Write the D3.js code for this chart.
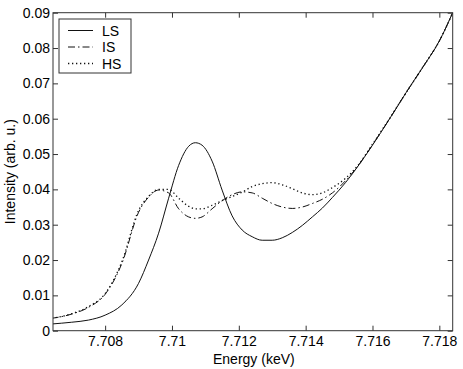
<!DOCTYPE html>
<html>
<head>
<meta charset="utf-8">
<script src="https://cdn.jsdelivr.net/npm/d3@7"></script>
<style>
  body { margin: 0; background: #fff; }
  text { font-family: "Liberation Sans", Arial, sans-serif; fill: #000; }
</style>
</head>
<body>
<div id="chart"></div>
<script>
// energy grid (keV)
const energy = [7.7064, 7.7070, 7.7075, 7.7080, 7.7085, 7.7090, 7.7093, 7.7096, 7.7099,
  7.7102, 7.7105, 7.7107, 7.7109, 7.7112, 7.7115, 7.7118, 7.7121, 7.7124, 7.7127,
  7.7130, 7.7133, 7.7136, 7.7139, 7.7142, 7.7145, 7.7148, 7.7152, 7.7156, 7.7160,
  7.7165, 7.7170, 7.7175, 7.7180, 7.7184];

const lsValues = [0.0019, 0.0024, 0.0030, 0.0044, 0.0073, 0.0134, 0.0200, 0.0276, 0.0375,
  0.0468, 0.0522, 0.0532, 0.0525, 0.0480, 0.0398, 0.0325, 0.0285, 0.0266, 0.0256,
  0.0256, 0.0263, 0.0278, 0.0298, 0.0322, 0.0347, 0.0377, 0.0420, 0.0470, 0.0525,
  0.0598, 0.0673, 0.0745, 0.0820, 0.0900];

const isValues = [0.0035, 0.0047, 0.0066, 0.0103, 0.0190, 0.0335, 0.0378, 0.0398, 0.0390,
  0.0345, 0.0322, 0.0318, 0.0322, 0.0345, 0.0368, 0.0385, 0.0393, 0.0390, 0.0375,
  0.0360, 0.0350, 0.0346, 0.0350, 0.0360, 0.0372, 0.0390, 0.0425, 0.0471, 0.0526,
  0.0598, 0.0673, 0.0745, 0.0820, 0.0900];

const hsValues = [0.0035, 0.0048, 0.0068, 0.0105, 0.0195, 0.0340, 0.0380, 0.0400, 0.0400,
  0.0375, 0.0352, 0.0345, 0.0345, 0.0355, 0.0368, 0.0380, 0.0392, 0.0408, 0.0416,
  0.0419, 0.0413, 0.0402, 0.0390, 0.0385, 0.0390, 0.0405, 0.0432, 0.0472, 0.0528,
  0.0599, 0.0673, 0.0745, 0.0820, 0.0900];

const seriesNames = ["LS", "IS", "HS"];
const xTicks = [7.708, 7.71, 7.712, 7.714, 7.716, 7.718];
const yTicks = [0, 0.01, 0.02, 0.03, 0.04, 0.05, 0.06, 0.07, 0.08, 0.09];

const width = 463, height = 369;
const margin = { top: 12.7, right: 10.3, bottom: 38.3, left: 53 };
const innerW = width - margin.left - margin.right;
const innerH = height - margin.top - margin.bottom;

const svg = d3.select("#chart").append("svg")
  .attr("width", width).attr("height", height);

const g = svg.append("g")
  .attr("transform", "translate(" + margin.left + "," + margin.top + ")");

const x = d3.scaleLinear().domain([7.70644, 7.7184]).range([0, innerW]);
const y = d3.scaleLinear().domain([0, 0.09]).range([innerH, 0]);

const axisColor = "#333";
const tickLen = 5;

g.append("clipPath").attr("id", "clip")
  .append("rect").attr("width", innerW).attr("height", innerH);

// series
const styles = {
  LS: { dash: null, width: 1 },
  IS: { dash: "7,3,1.5,3", width: 1 },
  HS: { dash: "1.3,2.7", width: 1.3 }
};
const values = { LS: lsValues, IS: isValues, HS: hsValues };

const line = d3.line()
  .x((d) => x(d[0]))
  .y((d) => y(d[1]))
  .curve(d3.curveMonotoneX);

seriesNames.forEach((name) => {
  const pts = energy.map((e, i) => [e, values[name][i]]);
  g.append("path")
    .attr("clip-path", "url(#clip)")
    .attr("d", line(pts))
    .attr("fill", "none")
    .attr("stroke", "#111")
    .attr("stroke-width", styles[name].width)
    .attr("stroke-dasharray", styles[name].dash);
});

// axes, ticks inside like matlab
const xAxis = g.append("g").attr("transform", "translate(0," + innerH + ")")
  .call(d3.axisBottom(x).tickValues(xTicks).tickSizeInner(-tickLen).tickSizeOuter(0)
    .tickPadding(5).tickFormat((d) => String(+d.toFixed(3))));
const yAxis = g.append("g")
  .call(d3.axisLeft(y).tickValues(yTicks).tickSizeInner(-tickLen).tickSizeOuter(0)
    .tickPadding(3).tickFormat((d) => String(+d.toFixed(2))));
const xTop = g.append("g")
  .call(d3.axisTop(x).tickValues(xTicks).tickSizeInner(-tickLen).tickSizeOuter(0).tickFormat(""));
const yRight = g.append("g").attr("transform", "translate(" + innerW + ",0)")
  .call(d3.axisRight(y).tickValues(yTicks).tickSizeInner(-tickLen).tickSizeOuter(0).tickFormat(""));

[xAxis, yAxis, xTop, yRight].forEach((a) => {
  a.select(".domain").remove();
  a.selectAll("line").attr("stroke", axisColor);
  a.selectAll("text").attr("font-size", 14).attr("font-family", "Liberation Sans, Arial, sans-serif").attr("fill", "#000");
});

g.append("rect")
  .attr("width", innerW).attr("height", innerH)
  .attr("fill", "none").attr("stroke", axisColor).attr("stroke-width", 1);

// axis labels
svg.append("text")
  .attr("x", margin.left + innerW / 2 + 1)
  .attr("y", 364)
  .attr("text-anchor", "middle")
  .attr("font-size", 14)
  .text("Energy (keV)");

svg.append("text")
  .attr("transform", "translate(15," + (margin.top + innerH / 2) + ") rotate(-90)")
  .attr("text-anchor", "middle")
  .attr("font-size", 14)
  .text("Intensity (arb. u.)");

// legend
const legend = svg.append("g").attr("transform", "translate(59,19)");
legend.append("rect")
  .attr("width", 72).attr("height", 54)
  .attr("fill", "#fff").attr("stroke", axisColor).attr("stroke-width", 1);

seriesNames.forEach((name, i) => {
  const ly = 11.5 + i * 16.5;
  legend.append("line")
    .attr("x1", 9).attr("x2", 34).attr("y1", ly).attr("y2", ly)
    .attr("stroke", "#111")
    .attr("stroke-width", styles[name].width)
    .attr("stroke-dasharray", styles[name].dash);
  legend.append("text")
    .attr("x", 43).attr("y", ly + 5)
    .attr("font-size", 14)
    .text(name);
});
</script>
</body>
</html>
